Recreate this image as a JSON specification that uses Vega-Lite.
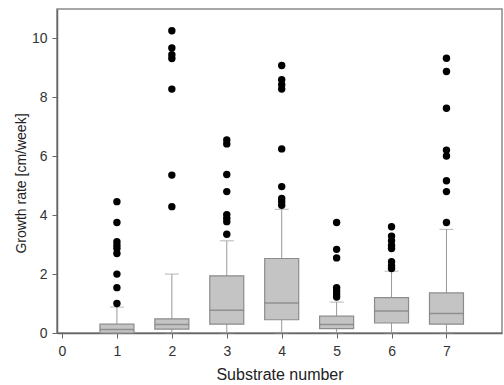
{
  "$schema": "https://vega.github.io/schema/vega-lite/v6.json",
  "width": 445,
  "height": 324,
  "autosize": {"type": "none"},
  "padding": {"left": 57, "top": 9, "right": 2, "bottom": 52},
  "background": "white",
  "config": {
    "view": {"stroke": "#8a8a8a", "strokeWidth": 1.5},
    "font": "Liberation Sans",
    "axis": {
      "grid": false,
      "domainColor": "#666666",
      "domainWidth": 1.5,
      "tickColor": "#666666",
      "tickSize": 5,
      "labelColor": "#333333",
      "titleColor": "#222222",
      "labelFontSize": 14,
      "titleFontSize": 14,
      "titleFontWeight": "normal",
      "labelFont": "Liberation Sans",
      "titleFont": "Liberation Sans"
    }
  },
  "datasets": {
    "boxes": [
      {"substrate": 1, "lower": 0, "q1": 0.0, "median": 0.12, "q3": 0.3, "upper": 0.88},
      {"substrate": 2, "lower": 0, "q1": 0.13, "median": 0.29, "q3": 0.48, "upper": 2.0},
      {"substrate": 3, "lower": 0, "q1": 0.3, "median": 0.77, "q3": 1.94, "upper": 3.13},
      {"substrate": 4, "lower": 0, "q1": 0.45, "median": 1.02, "q3": 2.53, "upper": 4.2},
      {"substrate": 5, "lower": 0, "q1": 0.15, "median": 0.29, "q3": 0.57, "upper": 1.05},
      {"substrate": 6, "lower": 0, "q1": 0.34, "median": 0.75, "q3": 1.2, "upper": 2.1},
      {"substrate": 7, "lower": 0, "q1": 0.3, "median": 0.66, "q3": 1.36, "upper": 3.52}
    ],
    "outliers": [
      {"substrate": 1, "value": 4.46}, {"substrate": 1, "value": 3.75}, {"substrate": 1, "value": 3.1},
      {"substrate": 1, "value": 2.98}, {"substrate": 1, "value": 2.87}, {"substrate": 1, "value": 2.7},
      {"substrate": 1, "value": 2.0}, {"substrate": 1, "value": 1.54}, {"substrate": 1, "value": 1.0},
      {"substrate": 2, "value": 10.26}, {"substrate": 2, "value": 9.68}, {"substrate": 2, "value": 9.45},
      {"substrate": 2, "value": 9.32}, {"substrate": 2, "value": 8.28}, {"substrate": 2, "value": 5.36},
      {"substrate": 2, "value": 4.29},
      {"substrate": 3, "value": 6.55}, {"substrate": 3, "value": 6.42}, {"substrate": 3, "value": 5.38},
      {"substrate": 3, "value": 4.8}, {"substrate": 3, "value": 4.02}, {"substrate": 3, "value": 3.9},
      {"substrate": 3, "value": 3.78}, {"substrate": 3, "value": 3.35},
      {"substrate": 4, "value": 9.08}, {"substrate": 4, "value": 8.6}, {"substrate": 4, "value": 8.43},
      {"substrate": 4, "value": 8.28}, {"substrate": 4, "value": 6.25}, {"substrate": 4, "value": 4.97},
      {"substrate": 4, "value": 4.57}, {"substrate": 4, "value": 4.46}, {"substrate": 4, "value": 4.34},
      {"substrate": 5, "value": 3.75}, {"substrate": 5, "value": 2.84}, {"substrate": 5, "value": 2.55},
      {"substrate": 5, "value": 1.54}, {"substrate": 5, "value": 1.43}, {"substrate": 5, "value": 1.32},
      {"substrate": 5, "value": 1.22},
      {"substrate": 6, "value": 3.61}, {"substrate": 6, "value": 3.29}, {"substrate": 6, "value": 3.13},
      {"substrate": 6, "value": 2.97}, {"substrate": 6, "value": 2.87}, {"substrate": 6, "value": 2.42},
      {"substrate": 6, "value": 2.28}, {"substrate": 6, "value": 2.19},
      {"substrate": 7, "value": 9.33}, {"substrate": 7, "value": 8.88}, {"substrate": 7, "value": 7.63},
      {"substrate": 7, "value": 6.21}, {"substrate": 7, "value": 6.01}, {"substrate": 7, "value": 5.17},
      {"substrate": 7, "value": 4.8}, {"substrate": 7, "value": 3.75}
    ]
  },
  "layer": [
    {
      "data": {"name": "boxes"},
      "mark": {"type": "rule", "color": "#999999", "strokeWidth": 1},
      "encoding": {
        "x": {"field": "substrate", "type": "quantitative",
              "scale": {"domain": [0, 7.92], "nice": false, "zero": false},
              "axis": {"values": [0, 1, 2, 3, 4, 5, 6, 7], "format": "d", "title": "Substrate number", "titleFontSize": 16, "labelPadding": 6, "titlePadding": 8}},
        "y": {"field": "lower", "type": "quantitative",
              "scale": {"domain": [0, 11], "nice": false},
              "axis": {"values": [0, 2, 4, 6, 8, 10], "format": "d", "title": "Growth rate [cm/week]", "labelPadding": 5, "titlePadding": 3, "titleY": 174}},
        "y2": {"field": "upper"}
      }
    },
    {
      "data": {"name": "boxes"},
      "mark": {"type": "bar", "width": 34, "color": "#c4c4c4", "stroke": "#8c8c8c", "strokeWidth": 1.2},
      "encoding": {
        "x": {"field": "substrate", "type": "quantitative"},
        "y": {"field": "q1", "type": "quantitative"},
        "y2": {"field": "q3"}
      }
    },
    {
      "data": {"name": "boxes"},
      "mark": {"type": "tick", "orient": "horizontal", "size": 34, "thickness": 1.5, "color": "#7a7a7a"},
      "encoding": {
        "x": {"field": "substrate", "type": "quantitative"},
        "y": {"field": "median", "type": "quantitative"}
      }
    },
    {
      "data": {"name": "boxes"},
      "mark": {"type": "tick", "orient": "horizontal", "size": 14, "thickness": 1, "color": "#999999"},
      "encoding": {
        "x": {"field": "substrate", "type": "quantitative"},
        "y": {"field": "upper", "type": "quantitative"}
      }
    },
    {
      "data": {"name": "boxes"},
      "mark": {"type": "tick", "orient": "horizontal", "size": 14, "thickness": 1, "color": "#999999"},
      "encoding": {
        "x": {"field": "substrate", "type": "quantitative"},
        "y": {"field": "lower", "type": "quantitative"}
      }
    },
    {
      "data": {"name": "outliers"},
      "mark": {"type": "circle", "size": 55, "color": "#000000", "opacity": 1},
      "encoding": {
        "x": {"field": "substrate", "type": "quantitative"},
        "y": {"field": "value", "type": "quantitative"}
      }
    }
  ]
}
